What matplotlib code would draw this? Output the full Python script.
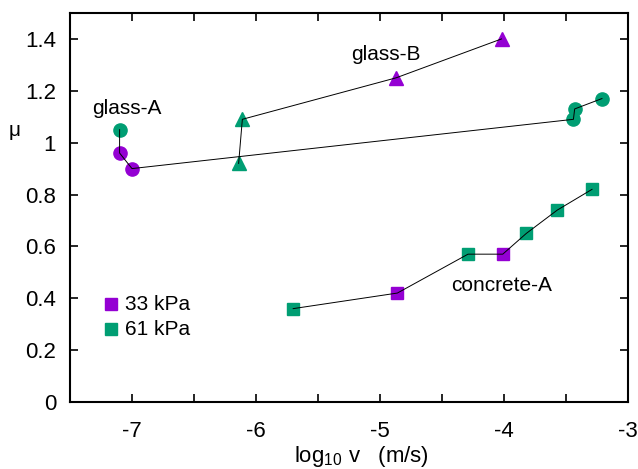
import matplotlib.pyplot as plt

plt.rcParams['font.family'] = ['Liberation Sans', 'DejaVu Sans']
plt.rcParams['axes.unicode_minus'] = False

purple = '#9400d3'
green = '#009e73'

# glass-A (circles)
ga_x = [-7.10, -7.10, -7.00, -3.44, -3.43, -3.21]
ga_y = [1.05, 0.96, 0.90, 1.09, 1.13, 1.17]
ga_p = [61, 33, 33, 61, 61, 61]

# glass-B (triangles)
gb_x = [-6.14, -6.11, -4.87, -4.02]
gb_y = [0.92, 1.09, 1.25, 1.40]
gb_p = [61, 61, 33, 33]

# concrete-A (squares)
ca_x = [-5.70, -4.86, -4.29, -4.01, -3.82, -3.57, -3.29]
ca_y = [0.36, 0.42, 0.57, 0.57, 0.65, 0.74, 0.82]
ca_p = [61, 33, 61, 33, 61, 61, 61]

pcol = {33: purple, 61: green}

fig = plt.figure(figsize=(6.38, 4.69), dpi=100)
ax = fig.add_axes([0.1097, 0.1429, 0.8746, 0.8294])

for xs, ys, ps, mk, ms in [(ga_x, ga_y, ga_p, 'o', 9.5),
                           (gb_x, gb_y, gb_p, '^', 9.5),
                           (ca_x, ca_y, ca_p, 's', 9)]:
    for x, y, p in zip(xs, ys, ps):
        ax.plot(x, y, marker=mk, ms=ms, color=pcol[p], mec=pcol[p], ls='none', zorder=2)
    ax.plot(xs, ys, color='black', lw=0.7, zorder=3)

ax.text(-7.04, 1.13, 'glass-A', fontsize=15, ha='center', va='center')
ax.text(-4.95, 1.34, 'glass-B', fontsize=15, ha='center', va='center')
ax.text(-4.02, 0.45, 'concrete-A', fontsize=15, ha='center', va='center')

# legend
ax.plot(-7.17, 0.377, marker='s', ms=9, color=purple, ls='none')
ax.plot(-7.17, 0.28, marker='s', ms=9, color=green, ls='none')
ax.text(-7.06, 0.377, '33 kPa', fontsize=15, va='center')
ax.text(-7.06, 0.28, '61 kPa', fontsize=15, va='center')

ax.set_xlim(-7.5, -3)
ax.set_ylim(0, 1.5)
ax.set_xticks([-7, -6, -5, -4, -3])
ax.set_xticks([-7.5, -6.5, -5.5, -4.5, -3.5], minor=True)
ax.set_yticks([0, 0.2, 0.4, 0.6, 0.8, 1.0, 1.2, 1.4])
ax.set_yticklabels(['0', '0.2', '0.4', '0.6', '0.8', '1', '1.2', '1.4'])
ax.tick_params(which='both', direction='in', top=True, right=True, labelsize=16,
               length=6, width=1.2)
ax.tick_params(axis='x', pad=14)
ax.tick_params(axis='y', pad=10)
for s in ax.spines.values():
    s.set_linewidth(1.5)

fig.text(15 / 638, 1 - 130 / 469, 'μ', fontsize=15, ha='center', va='center')
fig.text(361 / 638, 1 - 456 / 469, 'log$_{\\mathregular{10}}$ v   (m/s)', fontsize=16,
         ha='center', va='center')

fig.savefig('out.png', dpi=100)
